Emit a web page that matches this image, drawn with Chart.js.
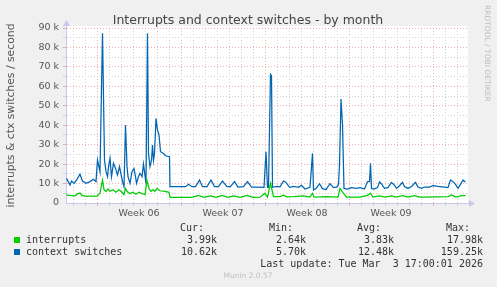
<!DOCTYPE html>
<html>
<head>
<meta charset="utf-8">
<script src="https://cdn.jsdelivr.net/npm/chart.js@4.4.1/dist/chart.umd.min.js"></script>
<style>
body{margin:0;background:#f0f0f0;}
#wrap{position:relative;width:497px;height:287px;background:#f0f0f0;overflow:hidden;font-family:"DejaVu Sans",sans-serif;}
#wrap canvas{position:absolute;left:0;top:0;}
.t{position:absolute;white-space:pre;line-height:12px;}
.mono{font-family:"DejaVu Sans Mono",monospace;font-size:10px;color:#333;}
</style>
</head>
<body>
<div id="wrap">
<canvas id="myChart" width="497" height="287"></canvas>
</div>
<script>
// x values are hours from the left edge of the graph (2 hours per pixel)
var weekStarts = [62, 230, 398, 566, 734];
var weekLabels = ['Week 06', 'Week 07', 'Week 08', 'Week 09'];
var firstDayHour = 14;
var totalHours = 804;

var ctxHours = [1,8,11,16,21,28,33,40,48,55,60,63,68,73,77,80,83,85,88,91,95,99,103,107,111,113,116,119,122,124,
    128,132,136,139,141,145,148,152,155,160,163,165,168,171,173,175,177,180,183,186,189,195,199,207,208,239,245,252,259,267,
    273,282,290,297,305,313,322,329,337,344,355,363,371,379,396,400,403,405,409,411,413,421,428,435,440,447,455,465,471,478,
    488,493,495,500,507,513,520,528,535,541,545,547,550,553,556,563,571,581,588,597,603,607,609,611,616,623,627,631,637,644,
    651,656,661,667,673,677,684,691,699,704,711,717,727,734,744,757,764,769,774,779,784,789,794,797,799];
var ctxSwitches = [12700,9300,11300,10100,11800,14800,11300,10100,11000,12200,11000,22100,16100,87300,22100,16100,13600,18700,23000,13600,
    20400,17800,14500,18700,13600,11000,8400,40100,18700,13600,10100,16100,17800,13600,10100,13600,15300,13600,20000,10100,
    87300,25500,18700,22000,29800,22000,25500,43500,37500,35000,26400,25500,24300,23800,8400,8400,9600,8400,8400,11800,
    8400,8400,11800,8400,8400,11300,8400,8400,11000,8200,8400,11000,8200,8200,8100,26400,8100,8100,66200,65500,
    8100,8500,8300,11300,10600,8100,8500,8100,9100,7200,8100,25500,6700,7500,9900,7400,6900,9900,7900,8200,
    9400,19500,53500,40100,7500,7200,7900,7500,7900,7200,11000,11000,20400,7500,7200,7900,10800,9800,7500,7900,
    10600,9400,7500,8900,10600,8500,7500,8500,10600,8200,7500,8200,8200,8900,8500,8200,7900,11800,11000,9600,
    7500,9600,11800,11000,11300];

var irqHours = [1,8,18,24,28,32,38,62,68,73,76,80,84,88,94,100,106,112,116,119,122,128,134,140,146,152,158,162,166,170,
    174,178,182,188,198,206,208,252,265,276,289,300,312,324,335,348,362,374,388,398,403,409,415,428,435,442,455,475,488,493,
    496,521,544,548,555,561,588,604,609,614,627,638,651,660,674,684,697,708,718,764,771,780,791,799];
var interrupts = [4100,3900,3700,4800,5100,3900,3600,3600,5100,11800,6800,6000,7200,6000,6800,5500,6800,5500,4300,7500,
    6000,4800,5500,4500,5500,4800,4300,11500,7500,6000,6800,6000,7500,6300,6000,5500,2900,2900,3900,2900,
    3600,2900,3900,2900,3600,2900,3900,2900,3000,5000,3000,10100,3300,3300,4000,3200,3300,3600,3000,5000,
    3000,3300,3000,7500,5000,3000,3000,4000,5000,3000,3600,3000,3600,3000,3800,3000,3800,3000,3000,3300,
    4100,3000,3800,3800];

var legendNames = ['interrupts', 'context switches'];
var legendColors = ['#00cc00', '#0066b3'];
var statHeads = ['Cur:', 'Min:', 'Avg:', 'Max:'];
var statValues = [
    ['3.99k', '2.64k', '3.83k', '17.98k'],
    ['10.62k', '5.70k', '12.48k', '159.25k']
];

function toPoints(xs, ys) {
    return xs.map(function (h, i) { return {x: h, y: ys[i]}; });
}

var wrap = document.getElementById('wrap');
function addText(txt, x, y, cls, align, css) {
    var d = document.createElement('div');
    d.className = 't ' + (cls || '');
    d.textContent = txt;
    d.style.top = (y - 6) + 'px';
    if (align === 'right') d.style.right = (497 - x) + 'px';
    else if (align === 'center') { d.style.left = x + 'px'; d.style.transform = 'translateX(-50%)'; }
    else d.style.left = x + 'px';
    if (css) Object.assign(d.style, css);
    wrap.appendChild(d);
    return d;
}

// title, credits
addText('Interrupts and context switches - by month', 248, 20, '', 'center', {fontSize: '12.5px', color: '#444'});
addText('RRDTOOL / TOBI OETIKER', 483, 11, '', 'left', {fontSize: '7.5px', color: '#bdbdbd', writingMode: 'vertical-rl', lineHeight: '9px'});
addText('Munin 2.0.57', 248, 276, '', 'center', {fontSize: '7.5px', color: '#c0c0c0'});

// legend
var colRight = [217, 306, 394, 483];
var headRight = [204, 293, 381, 470];
statHeads.forEach(function (h, i) { addText(h, headRight[i], 228, 'mono', 'right'); });
legendNames.forEach(function (n, r) {
    var y = 240 + r * 12;
    var sq = document.createElement('div');
    sq.style.cssText = 'position:absolute;left:14px;width:6px;height:6px;top:' + (y - 3) + 'px;background:' + legendColors[r];
    wrap.appendChild(sq);
    addText(n, 26, y, 'mono', 'left');
    statValues[r].forEach(function (v, i) { addText(v, colRight[i], y, 'mono', 'right'); });
});
addText('Last update: Tue Mar  3 17:00:01 2026', 483, 264, 'mono', 'right');

var axisColor = '#c8c8ee';
var majorGrid = 'rgba(235,120,120,0.6)';
var minorGrid = '#d2d2d2';

var plotBg = {
    id: 'plotBg',
    beforeDraw: function (chart) {
        var a = chart.chartArea, c = chart.ctx;
        c.save();
        c.fillStyle = '#ffffff';
        c.fillRect(a.left, a.top - 2, a.right - a.left, a.bottom - a.top + 2);
        c.restore();
    },
    afterDraw: function (chart) {
        var a = chart.chartArea, c = chart.ctx;
        c.save();
        c.fillStyle = axisColor;
        c.strokeStyle = axisColor;
        c.beginPath();
        c.moveTo(a.left + 0.5, a.top); c.lineTo(a.left + 0.5, a.top - 3);
        c.moveTo(a.right, a.bottom + 0.5); c.lineTo(a.right + 2, a.bottom + 0.5);
        c.stroke();
        c.beginPath();
        c.moveTo(a.left - 3, a.top - 2); c.lineTo(a.left + 4, a.top - 2); c.lineTo(a.left + 0.5, a.top - 8);
        c.closePath(); c.fill();
        c.beginPath();
        c.moveTo(a.right + 1, a.bottom - 3); c.lineTo(a.right + 1, a.bottom + 4); c.lineTo(a.right + 7, a.bottom + 0.5);
        c.closePath(); c.fill();
        c.restore();
    }
};

var tickFont = {family: 'DejaVu Sans', size: 9.5};

var chart = new Chart(document.getElementById('myChart').getContext('2d'), {
    type: 'line',
    data: {
        datasets: [{
            label: legendNames[0],
            data: toPoints(irqHours, interrupts),
            borderColor: legendColors[0],
            borderWidth: 1.25,
            pointRadius: 0,
            tension: 0
        }, {
            label: legendNames[1],
            data: toPoints(ctxHours, ctxSwitches),
            borderColor: legendColors[1],
            borderWidth: 1.25,
            pointRadius: 0,
            tension: 0
        }]
    },
    options: {
        responsive: false,
        animation: false,
        devicePixelRatio: 1,
        layout: {padding: {top: 28, right: 29, bottom: 64, left: 0}},
        plugins: {legend: {display: false}, title: {display: false}, tooltip: {enabled: false}},
        scales: {
            x: {
                type: 'linear',
                min: 0,
                max: totalHours,
                afterBuildTicks: function (s) {
                    var t = [];
                    for (var h = firstDayHour - 12; h <= totalHours; h += 12) t.push({value: h});
                    s.ticks = t;
                },
                afterFit: function (s) { s.height = 20; },
                ticks: {
                    autoSkip: false,
                    maxRotation: 0,
                    padding: 2,
                    font: tickFont,
                    color: '#555',
                    callback: function (v) {
                        var i = weekStarts.indexOf(v - 84);
                        return (i >= 0 && i < weekLabels.length) ? weekLabels[i] : '';
                    }
                },
                grid: {
                    color: function (c) {
                        var v = c.tick.value;
                        if (weekStarts.indexOf(v) >= 0) return majorGrid;
                        if ((v - firstDayHour) % 24 === 0) return minorGrid;
                        return 'rgba(0,0,0,0)';
                    },
                    lineWidth: 1,
                    tickLength: 3
                },
                border: {color: axisColor, dash: [1, 2]}
            },
            y: {
                min: 0,
                max: 90000,
                afterBuildTicks: function (s) {
                    var t = [];
                    for (var v = 0; v <= 90000; v += 5000) t.push({value: v});
                    s.ticks = t;
                },
                afterFit: function (s) { s.width = 66; },
                ticks: {
                    autoSkip: false,
                    padding: 4,
                    font: tickFont,
                    color: '#555',
                    callback: function (v) {
                        if (v === 0) return '0';
                        return v % 10000 === 0 ? (v / 1000) + ' k' : '';
                    }
                },
                grid: {
                    color: function (c) {
                        var v = c.tick.value;
                        if (v === 0) return 'rgba(0,0,0,0)';
                        return v % 10000 === 0 ? majorGrid : minorGrid;
                    },
                    lineWidth: 1,
                    tickLength: 3
                },
                border: {color: axisColor, dash: [1, 2]},
                title: {
                    display: true,
                    text: 'interrupts & ctx switches / second',
                    font: {family: 'DejaVu Sans', size: 10.8},
                    color: '#555',
                    padding: {top: 5, bottom: 0}
                }
            }
        }
    },
    plugins: [plotBg]
});
</script>
</body>
</html>
